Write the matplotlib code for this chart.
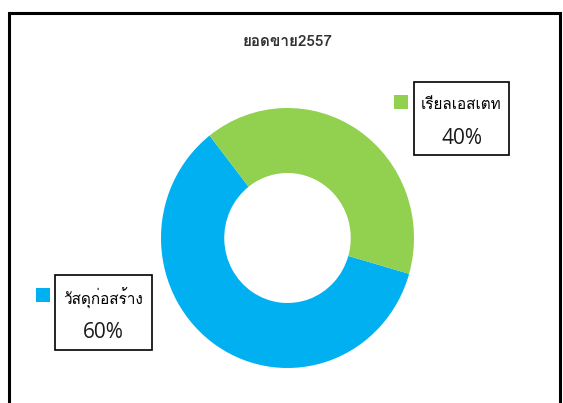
import matplotlib
matplotlib.use("Agg")
import matplotlib.pyplot as plt
from matplotlib import font_manager
from matplotlib.ft2font import FT2Font
from matplotlib.patches import Rectangle

title = "ยอดขาย2557"
labels = ["วัสดุก่อสร้าง", "เรียลเอสเตท"]
values = [60, 40]
colors = ["#00B0F0", "#92D050"]


def thai_font():
    # หา font ที่มีอักษรไทย
    for f in font_manager.fontManager.ttflist:
        try:
            if FT2Font(f.fname).get_char_index(ord("ก")):
                return f.name
        except Exception:
            pass
    return None


tf = thai_font()
fam = [tf, "DejaVu Sans"] if tf else ["DejaVu Sans"]

fig = plt.figure(figsize=(5.63, 4.03), dpi=100)
W, H = 563, 403

# กรอบนอก
fig.patches.append(Rectangle((8.5 / W, -0.05), 551 / W, 1 - 12.5 / H + 0.05,
                             transform=fig.transFigure, fill=False,
                             edgecolor="black", lw=2.2))

# โดนัท (ในภาพต้นฉบับกว้าง 253 สูง 260 px)
cx, cy, rw, rh = 287.5, 238, 253, 260
ax = fig.add_axes([(cx - rw / 2) / W, (H - cy - rh / 2) / H, rw / W, rh / H])
ax.pie(values, colors=colors, startangle=128, counterclock=True,
       wedgeprops=dict(width=0.5, edgecolor="none"), radius=1.0)
ax.set_aspect("auto")
ax.set_xlim(-1, 1)
ax.set_ylim(-1, 1)
ax.axis("off")

fig.text(cx / W, 1 - 42 / H, title, ha="center", va="center",
         fontsize=11, fontweight="bold", color="#333333", family=fam)

# ป้ายข้อมูล: (x ซ้ายกล่อง, y บนกล่อง, กว้าง, สูง, x สี่เหลี่ยม)
boxes = [(55, 275, 97, 75, 36), (414, 82, 95, 73, 394)]
for (bx, by, bw, bh, mx), lab, val, c in zip(boxes, labels, values, colors):
    fig.patches.append(Rectangle((bx / W, 1 - (by + bh) / H), bw / W, bh / H,
                                 transform=fig.transFigure, fill=False,
                                 edgecolor="black", lw=1.2))
    fig.patches.append(Rectangle((mx / W, 1 - (by + 27) / H), 14 / W, 14 / H,
                                 transform=fig.transFigure, facecolor=c,
                                 edgecolor="none"))
    fig.text((bx + bw / 2) / W, 1 - (by + 23) / H, lab, ha="center",
             va="center", fontsize=11, color="black", family=fam)
    fig.text((bx + bw / 2) / W, 1 - (by + 57) / H, f"{val}%", ha="center",
             va="center", fontsize=15, color="#1a1a1a",
             family=["Open Sans", "DejaVu Sans"])

fig.savefig("out.png", dpi=100)
